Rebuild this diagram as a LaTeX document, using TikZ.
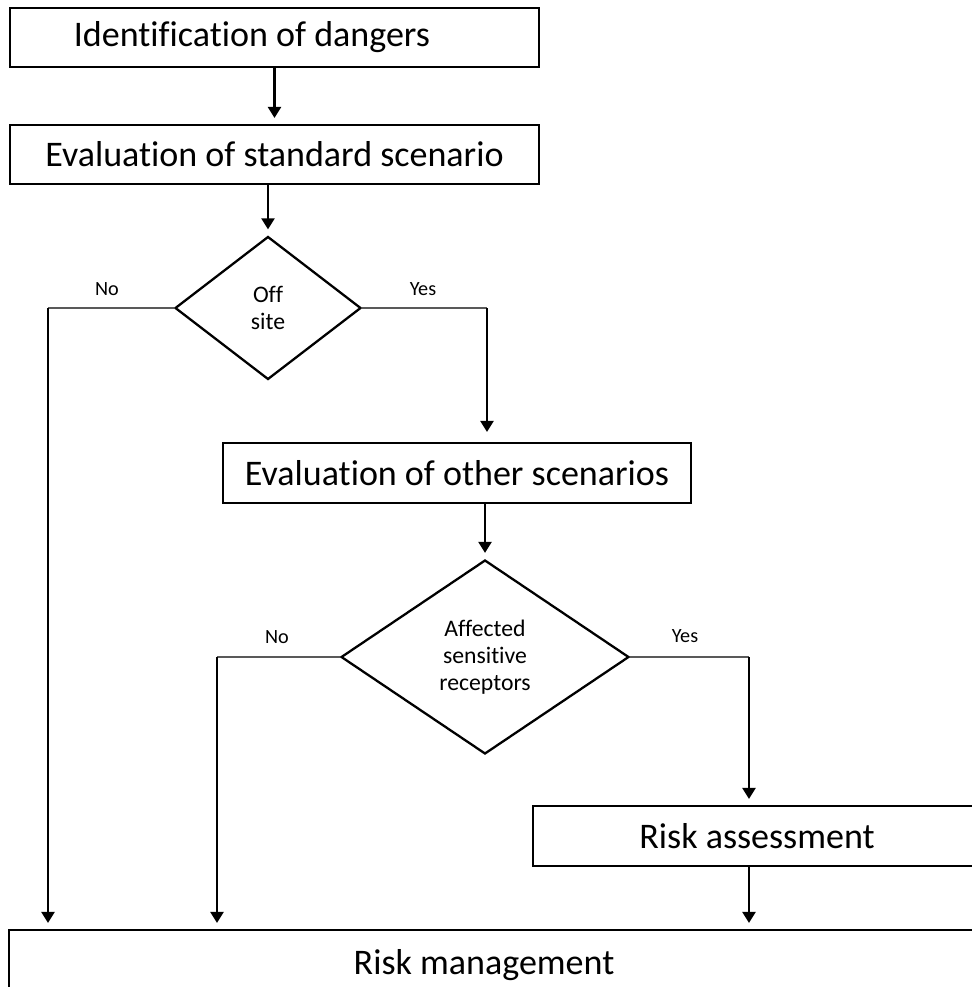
\documentclass[tikz,border=0pt]{standalone}
\usepackage{fontspec}
\setmainfont{Carlito}[Ligatures=NoCommon]
\usetikzlibrary{shapes.geometric, arrows.meta}

\begin{document}
\begin{tikzpicture}[x=0.02cm, y=-0.02cm,
        box/.style={draw=black, fill=white, line width=1.2pt, minimum height=1.2cm, inner sep=0pt, font=\fontsize{20.5}{24}\selectfont},
        decision/.style={diamond, draw=black, line width=1.3pt, inner sep=0pt, align=center, font=\fontsize{13.5}{15.5}\selectfont},
        lbl/.style={font=\fontsize{11.5}{13}\selectfont},
        arrow/.style={-{Triangle[length=0.22cm, width=0.26cm]}, line width=1.3pt, black, shorten >=0.12cm},
        hline/.style={line width=0.8pt, black!65}
    ]
        \useasboundingbox (0,0) rectangle (972,987);

        % Boxes & decisions
        \node[box, minimum width=10.58cm, minimum height=1.18cm] (dang) at (274.5, 37.5) {Identification of dangers\hspace*{0.9cm}};
        \node[box, minimum width=10.58cm, minimum height=1.18cm] (stand) at (274.5, 154.5) {Evaluation of standard scenario};
        \node[decision, minimum width=3.72cm, minimum height=2.86cm] (offsite) at (268, 308) {Off\\site};
        \node[box, minimum width=9.36cm] (other) at (457, 473) {Evaluation of other scenarios};
        \node[decision, minimum width=5.76cm, minimum height=3.88cm] (affected) at (485, 657) {Affected\\sensitive\\receptors};
        \node[box, minimum width=8.96cm] (assess) at (757, 836) {Risk assessment};
        \node[box, minimum width=19.8cm, minimum height=1.4cm] (manage) at (504, 965) {Risk management\hspace*{0.8cm}};

        % Labels
        \node[lbl] (offno) at (107, 289) {No};
        \node[lbl] (offyes) at (423, 289) {Yes};
        \node[lbl] (affno) at (277, 637) {No};
        \node[lbl] (affyes) at (685, 636) {Yes};

        % Bends
        \coordinate (nooff) at (48, 308);
        \coordinate (yesoff) at (487, 308);
        \coordinate (noaff) at (217, 657);
        \coordinate (yesaff) at (749, 657);

        % Connections
        \draw[arrow] (dang.south) -- (stand.north);
        \draw[arrow] (stand.south -| offsite.north) -- (offsite.north);
        \draw[hline] (offsite.west) -- (nooff);
        \draw[arrow] (nooff) -- (nooff |- manage.north);
        \draw[hline] (offsite.east) -- (yesoff);
        \draw[arrow, shorten >=0.2cm] (yesoff) -- (yesoff |- other.north);
        \draw[arrow] (other.south -| affected.north) -- (affected.north);
        \draw[hline] (affected.west) -- (noaff);
        \draw[arrow] (noaff) -- (noaff |- manage.north);
        \draw[hline] (affected.east) -- (yesaff);
        \draw[arrow] (yesaff) -- (yesaff |- assess.north);
        \draw[arrow] (assess.south -| yesaff) -- (yesaff |- manage.north);
    \end{tikzpicture}
\end{document}
